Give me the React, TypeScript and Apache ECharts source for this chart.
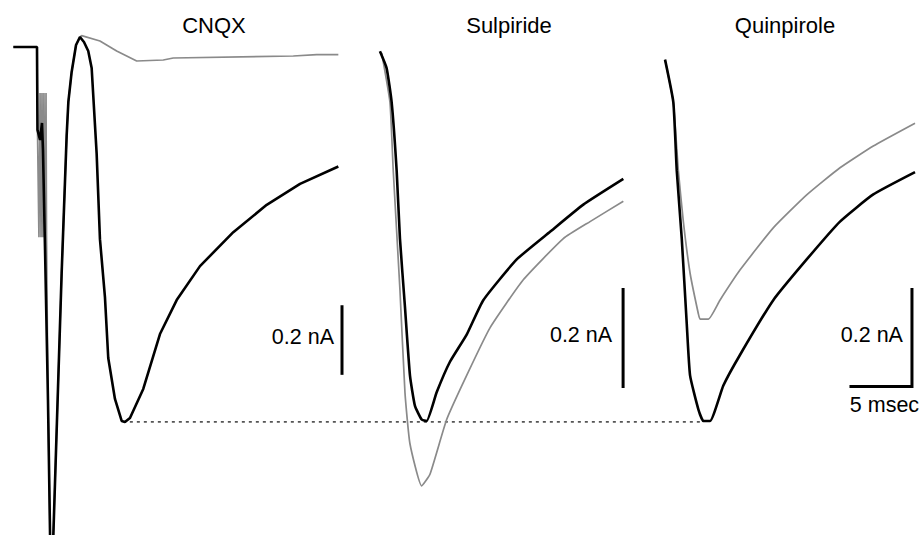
import React, { useEffect, useRef } from "react";
import * as echarts from "echarts";

// ---------- DATA (time in ms after stimulus, current in nA relative to baseline) ----------
const titles = ["CNQX", "Sulpiride", "Quinpirole"];
const currentScaleLabel = "0.2 nA";
const timeScaleLabel = "5 msec";
const currentScaleNA = 0.2;
const timeScaleMs = 5;

// CNQX panel
const cnqxBlackT = [-1.94, 0, 0.04, 0.25, 0.41, 0.49, 0.66, 0.9, 1.07, 1.19, 1.34, 2.02, 2.43, 2.57, 2.84, 3.2, 3.52, 3.85, 4.2, 4.48, 4.89, 5.16, 5.57, 5.84, 6.39, 6.94, 7.21, 7.62, 8.71, 10.08, 11.45, 13.36, 16.09, 18.83, 21.56, 24.7];
const cnqxBlackV = [0, 0, -0.249, -0.279, -0.228, -0.309, -0.61, -1.06, -1.465, -1.571, -1.465, -0.679, -0.267, -0.165, -0.075, 0.006, 0.03, 0.015, -0.012, -0.063, -0.321, -0.577, -0.751, -0.934, -1.057, -1.123, -1.126, -1.114, -1.027, -0.862, -0.76, -0.658, -0.556, -0.474, -0.411, -0.359];
const cnqxGrayT = [-1.94, 0, 0.04, 0.16, 0.25, 0.33, 0.41, 0.49, 0.57, 0.66, 0.74, 0.78, 0.9, 1.07, 1.19, 1.34, 2.02, 2.43, 2.57, 2.84, 3.2, 3.52, 3.66, 5.16, 6.53, 8.17, 10.35, 11.17, 21.01, 22.93, 24.7];
const cnqxGrayV = [0, 0, -0.249, -0.571, -0.138, -0.571, -0.138, -0.571, -0.138, -0.571, -0.138, -0.571, -1.06, -1.465, -1.571, -1.465, -0.679, -0.267, -0.165, -0.075, 0.006, 0.03, 0.034, 0.018, -0.012, -0.042, -0.039, -0.033, -0.027, -0.023, -0.023];

// Sulpiride panel
const sulpBlackT = [3.52, 4.07, 4.48, 4.89, 5.16, 5.57, 5.98, 6.39, 6.94, 7.35, 8.17, 9.26, 10.63, 11.99, 14.73, 17.46, 20.19, 23.47];
const sulpBlackV = [-0.009, -0.044, -0.114, -0.255, -0.395, -0.536, -0.677, -0.74, -0.768, -0.771, -0.712, -0.649, -0.593, -0.522, -0.438, -0.381, -0.325, -0.272];
const sulpGrayT = [3.66, 4.34, 4.61, 5.16, 5.57, 5.98, 6.94, 7.62, 8.99, 10.63, 12.54, 15.27, 18.55, 20.74, 23.47];
const sulpGrayV = [-0.012, -0.114, -0.255, -0.501, -0.712, -0.818, -0.905, -0.881, -0.768, -0.677, -0.579, -0.48, -0.395, -0.36, -0.318];

// Quinpirole panel
const quinBlackT = [3.61, 4.29, 4.57, 4.98, 5.39, 5.66, 6.34, 6.75, 7.3, 8.39, 9.75, 12.48, 15.22, 17.95, 20.68, 24.1];
const quinBlackV = [-0.026, -0.114, -0.255, -0.395, -0.571, -0.677, -0.747, -0.771, -0.771, -0.698, -0.635, -0.522, -0.438, -0.36, -0.304, -0.258];
const quinGrayT = [3.61, 4.29, 4.7, 5.11, 5.66, 6.34, 6.48, 7.16, 8.11, 9.75, 12.48, 15.22, 17.95, 20.68, 24.1];
const quinGrayV = [-0.026, -0.114, -0.255, -0.36, -0.466, -0.55, -0.561, -0.561, -0.522, -0.46, -0.373, -0.305, -0.249, -0.204, -0.157];

// ---------- LAYOUT ----------
const W = 924;
const H = 535;
const PX_PER_MS = 12.2;
const BASELINE_Y = 47;
const panels = [
  { x0: 37, tMin: -2, tMax: 26, pxPerNA: 333, titleX: 214, barT: 25.0, barTop: -0.78, labelGap: 8, smooth: 0 },
  { x0: 337, tMin: 3, tMax: 24, pxPerNA: 485, titleX: 509, barT: 23.45, barTop: -0.5, labelGap: 11, smooth: 0.15 },
  { x0: 621, tMin: 3, tMax: 24.5, pxPerNA: 485, titleX: 785, barT: 23.85, barTop: -0.5, labelGap: 9, smooth: 0.15 },
];
const FONT_TITLE = '22px "Liberation Sans", Arial, Helvetica, sans-serif';
const FONT_LABEL = '21.5px "Liberation Sans", Arial, Helvetica, sans-serif';
const BLACK = "#000000";
const GRAY = "#8a8a8a";

const zip = (t: number[], v: number[]) => t.map((x, i) => [x, v[i]]);

const traces = [
  { gray: zip(cnqxGrayT, cnqxGrayV), black: zip(cnqxBlackT, cnqxBlackV) },
  { gray: zip(sulpGrayT, sulpGrayV), black: zip(sulpBlackT, sulpBlackV) },
  { gray: zip(quinGrayT, quinGrayV), black: zip(quinBlackT, quinBlackV) },
];

export default function App() {
  const ref = useRef<HTMLDivElement>(null);
  useEffect(() => {
    if (!ref.current) return;
    const chart = echarts.init(ref.current, null, { renderer: "svg" });

    const grid = panels.map((p) => ({
      left: p.x0 + p.tMin * PX_PER_MS,
      top: 0,
      width: (p.tMax - p.tMin) * PX_PER_MS,
      height: H,
      containLabel: false,
    }));
    const xAxis = panels.map((p, i) => ({
      type: "value",
      gridIndex: i,
      min: p.tMin,
      max: p.tMax,
      show: false,
    }));
    const yAxis = panels.map((p, i) => ({
      type: "value",
      gridIndex: i,
      min: -(H - BASELINE_Y) / p.pxPerNA,
      max: BASELINE_Y / p.pxPerNA,
      show: false,
    }));

    const series: any[] = [];
    traces.forEach((tr, i) => {
      const p = panels[i];
      series.push({
        type: "line",
        xAxisIndex: i,
        yAxisIndex: i,
        data: tr.gray,
        symbol: "none",
        silent: true,
        clip: true,
        smooth: p.smooth,
        z: 2,
        lineStyle: { color: GRAY, width: 1.7 },
      });
      series.push({
        type: "line",
        xAxisIndex: i,
        yAxisIndex: i,
        data: tr.black,
        symbol: "none",
        silent: true,
        clip: true,
        smooth: p.smooth,
        z: 3,
        lineStyle: { color: BLACK, width: 2.6 },
      });
      const bottom = p.barTop - currentScaleNA;
      const barData =
        i === 2
          ? [
              [p.barT - timeScaleMs, bottom],
              [p.barT, bottom],
              [p.barT, p.barTop],
            ]
          : [
              [p.barT, p.barTop],
              [p.barT, bottom],
            ];
      series.push({
        type: "line",
        xAxisIndex: i,
        yAxisIndex: i,
        data: barData,
        symbol: "none",
        silent: true,
        clip: false,
        z: 4,
        lineStyle: { color: BLACK, width: 3, cap: "square", join: "miter" },
      });
    });

    chart.setOption({
      animation: false,
      backgroundColor: "#ffffff",
      grid,
      xAxis,
      yAxis,
      series,
    });

    const graphic: any[] = [];
    panels.forEach((p, i) => {
      graphic.push({
        type: "text",
        x: p.titleX,
        y: 25,
        style: {
          text: titles[i],
          font: FONT_TITLE,
          fill: BLACK,
          textAlign: "center",
          textVerticalAlign: "middle",
        },
      });
      const mid = chart.convertToPixel({ gridIndex: i }, [p.barT, p.barTop - currentScaleNA / 2]) as number[];
      graphic.push({
        type: "text",
        x: mid[0] - p.labelGap,
        y: mid[1] - 3,
        style: {
          text: currentScaleLabel,
          font: FONT_LABEL,
          fill: BLACK,
          textAlign: "right",
          textVerticalAlign: "middle",
        },
      });
      if (i === 2) {
        const bl = chart.convertToPixel({ gridIndex: i }, [p.barT - timeScaleMs / 2, p.barTop - currentScaleNA]) as number[];
        graphic.push({
          type: "text",
          x: bl[0] + 3,
          y: bl[1] + 18,
          style: {
            text: timeScaleLabel,
            font: FONT_LABEL,
            fill: BLACK,
            textAlign: "center",
            textVerticalAlign: "middle",
          },
        });
      }
    });

    // dotted reference line at the CNQX trough level, to the Quinpirole trough
    const cIdx = cnqxBlackV.indexOf(Math.min(...cnqxBlackV.slice(20)));
    const qIdx = quinBlackV.indexOf(Math.min(...quinBlackV));
    const start = chart.convertToPixel({ gridIndex: 0 }, [cnqxBlackT[cIdx] + 0.4, cnqxBlackV[cIdx]]) as number[];
    const end = chart.convertToPixel({ gridIndex: 2 }, [quinBlackT[qIdx], quinBlackV[qIdx]]) as number[];
    graphic.push({
      type: "line",
      z: 1,
      shape: { x1: start[0], y1: start[1], x2: end[0], y2: start[1] },
      style: { stroke: "#555555", lineWidth: 1.8, lineDash: [3, 4] },
    });

    chart.setOption({ graphic });

    return () => chart.dispose();
  }, []);

  return (
    <div
      ref={ref}
      style={{ position: "absolute", left: 0, top: 0, width: W, height: H, background: "#fff" }}
    />
  );
}
